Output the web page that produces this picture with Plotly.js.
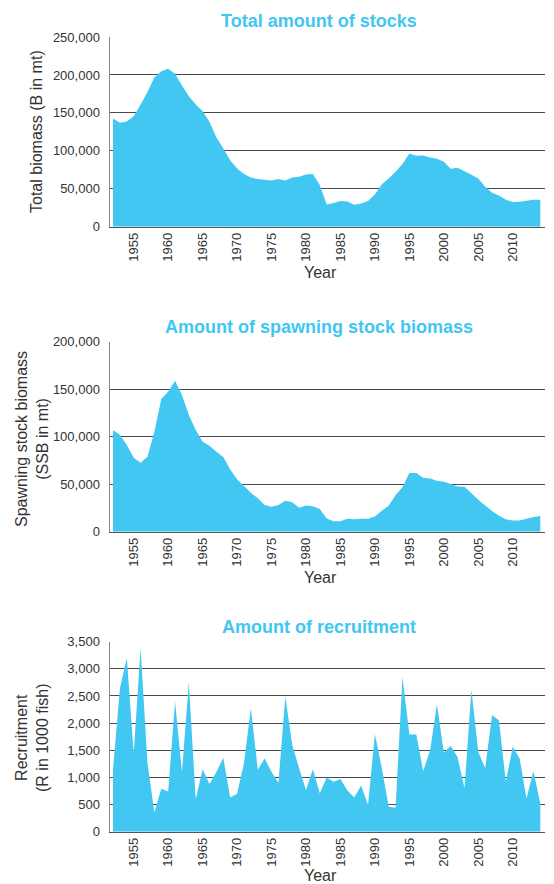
<!DOCTYPE html>
<html>
<head>
<meta charset="utf-8">
<script src="https://cdn.plot.ly/plotly-3.0.1.min.js"></script>
<style>html,body{margin:0;padding:0;background:#fff;}#chart{width:554px;height:884px;}</style>
</head>
<body>
<div id="chart"></div>
<script>
const years = [1952,1953,1954,1955,1956,1957,1958,1959,1960,1961,
  1962,1963,1964,1965,1966,1967,1968,1969,1970,1971,
  1972,1973,1974,1975,1976,1977,1978,1979,1980,1981,
  1982,1983,1984,1985,1986,1987,1988,1989,1990,1991,
  1992,1993,1994,1995,1996,1997,1998,1999,2000,2001,
  2002,2003,2004,2005,2006,2007,2008,2009,2010,2011,
  2012,2013,2014];

const totalBiomass = [142500,137000,138600,145600,161000,177600,197000,205000,208000,201700,
  186000,172000,161000,152600,138000,117500,103000,87700,76700,69300,
  65000,62700,61800,61000,62700,61000,65000,65800,68900,69300,
  54800,29400,31100,33800,33300,29000,30700,33800,42500,56100,
  63600,72400,82500,96500,93400,93900,91200,89500,85500,76300,
  77600,73200,68400,63600,52600,44700,41200,35500,32500,32900,
  34200,35500,35500];

const spawningBiomass = [107000,101800,91200,77900,72600,79000,105300,139700,147400,159000,
  143900,122800,107000,94700,90500,84200,78600,65600,55100,48100,
  41100,35100,28100,26300,28100,32600,30900,25300,27700,26700,
  23900,14000,10900,10900,13700,13000,13700,13700,16100,22100,
  27400,38600,46700,61800,61800,56800,56100,53700,52600,50200,
  47700,47400,40400,33700,27700,21800,16800,13000,11900,11900,
  13700,15400,16500];

const recruitment = [1150,2640,3200,1440,3390,1260,360,790,740,2400,
  1100,2750,600,1150,880,1100,1360,630,700,1260,
  2280,1140,1350,1100,900,2490,1600,1170,770,1150,
  710,1000,920,970,760,630,850,490,1800,1170,
  460,440,2850,1790,1790,1120,1490,2350,1460,1580,
  1370,800,2620,1470,1170,2150,2050,920,1570,1350,
  610,1120,520];

const xTicks = [1955,1960,1965,1970,1975,1980,1985,1990,1995,2000,2005,2010];

const chartTitles = ["Total amount of stocks","Amount of spawning stock biomass","Amount of recruitment"];
const yTitles = ["Total biomass (B in mt)","Spawning stock biomass<br>(SSB in mt)","Recruitment<br>(R in 1000 fish)"];

const FILL = '#42C6F2';
const W = 554, H = 884;
const px = v => v / W;
const py = v => 1 - v / H;

function area(y, xa, ya) {
  return {x: years, y: y, type: 'scatter', mode: 'none', fill: 'tozeroy',
    fillcolor: FILL, xaxis: xa, yaxis: ya, hoverinfo: 'skip', showlegend: false};
}

const data = [area(totalBiomass,'x','y'), area(spawningBiomass,'x2','y2'), area(recruitment,'x3','y3')];

const tickFont = {family: 'Liberation Sans, Arial, sans-serif', size: 13, color: '#333'};

function xax(anchor) {
  return {domain: [px(110), px(545)], anchor: anchor, range: [1951.56, 2014.68],
    tickvals: xTicks, tickangle: -90, ticks: '', showgrid: false, zeroline: false,
    showline: true, linecolor: '#555', linewidth: 1, tickfont: tickFont, fixedrange: true};
}
function yax(top, bottom, anchor, maxv, dtick) {
  return {domain: [py(bottom), py(top)], anchor: anchor, range: [0, maxv], dtick: dtick,
    tickformat: ',d', showgrid: true, gridcolor: '#4a4a4a', gridwidth: 1,
    zeroline: false, showline: true, linecolor: '#8a8a8a', linewidth: 1.5,
    ticks: 'outside', ticklen: 6, tickcolor: 'rgba(0,0,0,0)', tickfont: tickFont, fixedrange: true};
}

const titleFont = {family: 'Liberation Sans, Arial, sans-serif', size: 18, color: '#41C6F2'};
const axTitleFont = {family: 'Liberation Sans, Arial, sans-serif', size: 16, color: '#333'};

const annotations = [
  {text: '<b>' + chartTitles[0] + '</b>', x: px(319), y: py(21)},
  {text: '<b>' + chartTitles[1] + '</b>', x: px(319), y: py(327)},
  {text: '<b>' + chartTitles[2] + '</b>', x: px(319), y: py(627)}
].map(a => Object.assign(a, {xref: 'paper', yref: 'paper', showarrow: false,
  xanchor: 'center', yanchor: 'middle', font: titleFont}));

[[yTitles[0], 36, 132], [yTitles[1], 32, 439], [yTitles[2], 32, 738]].forEach(t => {
  annotations.push({text: t[0], x: px(t[1]), y: py(t[2]), xref: 'paper', yref: 'paper',
    showarrow: false, textangle: -90, xanchor: 'center', yanchor: 'middle', font: axTitleFont});
});
[272, 577, 875].forEach(yy => {
  annotations.push({text: 'Year', x: px(320), y: py(yy), xref: 'paper', yref: 'paper',
    showarrow: false, xanchor: 'center', yanchor: 'middle', font: axTitleFont});
});

const layout = {
  width: W, height: H, margin: {l: 0, r: 0, t: 0, b: 0},
  paper_bgcolor: '#fff', plot_bgcolor: '#fff', showlegend: false,
  font: {family: 'Liberation Sans, Arial, sans-serif'},
  xaxis: xax('y'), yaxis: yax(37, 226.7, 'x', 250000, 50000),
  xaxis2: xax('y2'), yaxis2: yax(341.7, 531.7, 'x2', 200000, 50000),
  xaxis3: xax('y3'), yaxis3: yax(641.7, 831.7, 'x3', 3500, 500),
  annotations: annotations
};

Plotly.newPlot('chart', data, layout, {staticPlot: true, displayModeBar: false});
</script>
</body>
</html>
